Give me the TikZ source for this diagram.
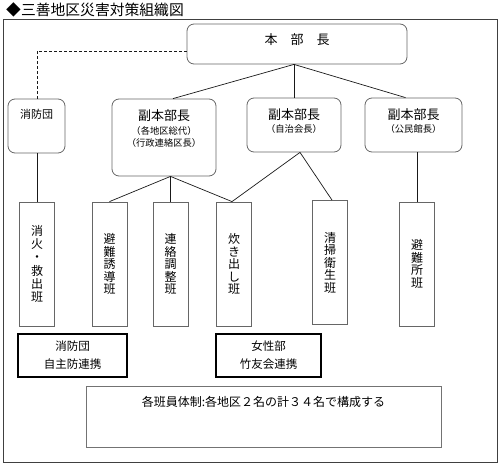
\documentclass[tikz,border=0pt]{standalone}
\usepackage{fontspec}
\setmainfont{Noto Sans CJK JP}
\begin{document}
\begin{tikzpicture}[x=1pt,y=-1pt,
  rbox/.style={draw=black!60, rounded corners=7pt, line width=0.8pt, inner sep=0pt},
  vbox/.style={draw=black!60, line width=0.8pt, minimum width=35pt, minimum height=124pt, inner sep=0pt, align=center},
  bbox/.style={draw=black, line width=1.8pt, minimum height=43pt, inner sep=0pt, align=center, font=\fontsize{11.5}{18}\selectfont},
  txt/.style={anchor=center, inner sep=0pt},
  link/.style={draw=black!90, line width=0.7pt},
  big/.style={font=\fontsize{13}{15}\selectfont},
  small/.style={font=\fontsize{9.3}{11}\selectfont},
  vt/.style={font=\fontsize{12}{12.5}\selectfont}
]
\useasboundingbox (0,0) rectangle (500,465);
\draw[black!75, line width=0.8pt] (3,19) rectangle (497,462);
\node[anchor=west, inner sep=0pt, font=\fontsize{14.8}{16}\selectfont] (title) at (6,10) {◆三善地区災害対策組織図};

% top level
\node[rbox, minimum width=220pt, minimum height=40pt,
  label={[txt, big, yshift=-16pt]north:本　部　長}] (hq) at (297,44) {};

% second level
\node[rbox, minimum width=57pt, minimum height=54pt,
  label={[txt, font=\fontsize{11}{13}\selectfont, yshift=-16pt]north:消防団}] (fire) at (36.5,126) {};
\node[rbox, minimum width=104pt, minimum height=77pt,
  label={[txt, big, yshift=-17pt]north:副本部長},
  label={[txt, small, yshift=-32pt]north:（各地区総代）},
  label={[txt, small, yshift=-44pt]north:（行政連絡区長）}] (d1) at (164,137.5) {};
\node[rbox, minimum width=94pt, minimum height=54pt,
  label={[txt, big, yshift=-17pt]north:副本部長},
  label={[txt, small, yshift=-31pt]north:（自治会長）}] (d2) at (294,125) {};
\node[rbox, minimum width=97pt, minimum height=54pt,
  label={[txt, big, yshift=-17pt]north:副本部長},
  label={[txt, small, yshift=-31pt]north:（公民館長）}] (d3) at (413.5,125) {};

% squads
\node[vbox, font=\fontsize{12}{13.2}\selectfont] (s1) at (37,264) {消\\火\\・\\救\\出\\班};
\node[vbox, vt] (s2) at (109.5,264) {避\\難\\誘\\導\\班};
\node[vbox, vt] (s3) at (170.5,264) {連\\絡\\調\\整\\班};
\node[vbox, vt] (s4) at (234,264) {炊\\き\\出\\し\\班};
\node[vbox, vt] (s5) at (330,262.5) {清\\掃\\衛\\生\\班};
\node[vbox, vt] (s6) at (417,264) {避\\難\\所\\班};

% cooperation boxes
\node[bbox, minimum width=109pt] (b1) at (72.5,355.5) {消防団\\自主防連携};
\node[bbox, minimum width=105pt] (b2) at (268.5,355.5) {女性部\\竹友会連携};

% note
\node[draw=black!55, line width=0.8pt, minimum width=355pt, minimum height=61pt, inner sep=0pt,
  label={[txt, font=\fontsize{12}{14}\selectfont, yshift=-16pt]north:各班員体制:各地区２名の計３４名で構成する}] (note) at (263.5,416.5) {};

% connectors
\coordinate (hqj) at (d2.north |- hq.south);
\draw[link] (hqj) -- ([xshift=9pt]d1.north);
\draw[link] (hqj) -- (d2.north);
\draw[link] (hqj) -- ([xshift=-8pt]d3.north);
\coordinate (d1j) at (s3.north |- d1.south);
\draw[link] (d1j) -- (s2.north);
\draw[link] (d1j) -- (s3.north);
\draw[link] (d1j) -- ([xshift=-2pt]s4.north);
\coordinate (d2j) at ([xshift=6pt]d2.south);
\draw[link] (d2j) -- ([xshift=-2pt]s4.north);
\draw[link] (d2j) -- ([xshift=2pt]s5.north);
\draw[link] (s6.north |- d3.south) -- (s6.north);
\draw[link] (s1.north |- fire.south) -- (s1.north);
\draw[link, dash pattern=on 3pt off 2pt] ([yshift=-7pt]hq.west) -| (s1.north |- fire.north);
\end{tikzpicture}
\end{document}
